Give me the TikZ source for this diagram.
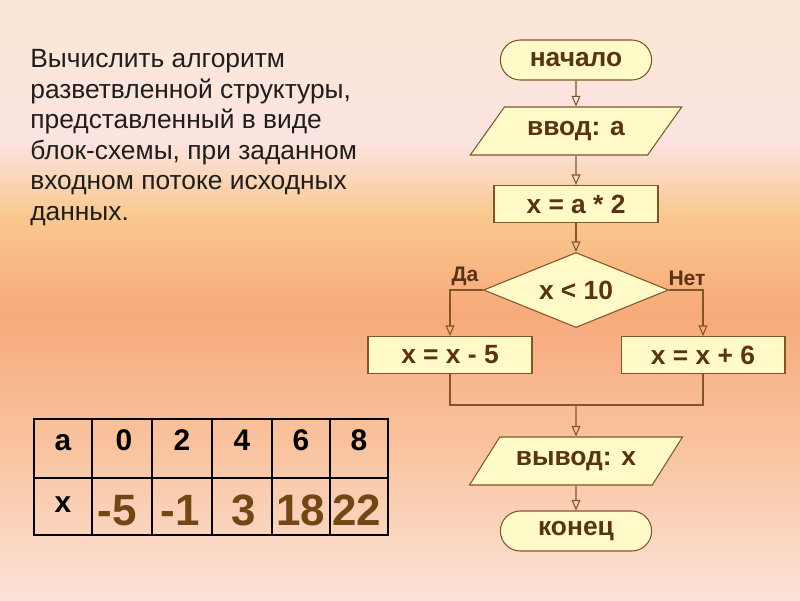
\documentclass[tikz,border=0pt]{standalone}
\usepackage{fontspec}
\setmainfont{Liberation Sans}
\usetikzlibrary{positioning,arrows.meta,shapes.geometric,shapes.misc}
\definecolor{fcLine}{RGB}{130,85,40}
\definecolor{fcFill}{RGB}{255,250,200}
\definecolor{fcText}{RGB}{90,50,20}
\definecolor{tbVal}{RGB}{115,70,20}
\definecolor{txDark}{RGB}{30,30,30}
\definecolor{bgA}{RGB}{250,231,212}
\definecolor{bgB}{RGB}{252,228,226}
\definecolor{bgC}{RGB}{249,200,142}
\definecolor{bgD}{RGB}{247,170,122}
\definecolor{bgE}{RGB}{249,196,160}
\definecolor{bgF}{RGB}{252,226,216}
\pgfdeclareverticalshading{bgshade}{100bp}{color(0bp)=(bgF); color(25bp)=(bgF); color(37.5bp)=(bgE); color(49bp)=(bgD); color(57bp)=(bgC); color(63.3bp)=(bgB); color(75bp)=(bgA); color(100bp)=(bgA)}

\begin{document}
\begin{tikzpicture}[x=0.02cm, y=-0.02cm,
  box/.style={draw=fcLine, line width=0.6pt, fill=fcFill, text=fcText,
    font=\bfseries\fontsize{15}{17}\selectfont},
  term/.style={box, rounded rectangle, minimum width=3.26cm, minimum height=0.8cm},
  io/.style={box, trapezium, trapezium left angle=50, trapezium right angle=130,
    trapezium stretches=true, minimum width=4.26cm, minimum height=0.96cm},
  proc/.style={box, rectangle, minimum width=3.28cm, minimum height=0.74cm},
  test/.style={box, diamond, aspect=2.5, inner sep=0pt, minimum width=3.7cm, minimum height=1.5cm},
  flow/.style={draw=fcLine, line width=0.6pt, -{Triangle[open,length=6pt,width=5pt]}},
  link/.style={draw=fcLine, line width=0.6pt},
  lbl/.style={text=fcText, font=\bfseries\fontsize{12}{14}\selectfont},
  hd/.style={anchor=base, font=\bfseries\fontsize{17}{19}\selectfont},
  val/.style={anchor=base, text=tbVal, font=\bfseries\fontsize{25}{28}\selectfont}]
  \useasboundingbox (0,0) rectangle (800,600);
  % Background
  \shade[shading=bgshade] (0,0) rectangle (800,600);

  % Task text
  \node[anchor=north west, inner sep=0pt, align=left, text=txDark,
    font=\fontsize{15}{17.4}\selectfont] (task) at (30,49) {
    Вычислить алгоритм\\
    разветвленной структуры,\\
    представленный в виде\\
    блок-схемы, при заданном\\
    входном потоке исходных\\
    данных.};

  % Flowchart
  \node[term] (start) at (576,60) {начало};
  \node[io] (input) at (576,131) {ввод: а};
  \node[proc] (calc) at (576,204) {x = a * 2};
  \node[test] (cond) at (576,290) {x < 10};
  \node[proc] (dec) at (450,355) {x = x - 5};
  \node[proc] (inc) at (703,355) {x = x + 6};
  \coordinate (join) at (576,405);
  \node[io] (output) at (576,461) {вывод: х};
  \node[term] (stop) at (576,531) {конец};

  \node[lbl] (yes) at (465,276) {Да};
  \node[lbl] (no) at (687,278) {Нет};

  \draw[flow] (start) -- (input);
  \draw[flow] (input) -- (calc);
  \draw[flow] (calc) -- (cond);
  \draw[flow] (cond.west) -| (dec);
  \draw[flow] (cond.east) -| (inc);
  \draw[link] (dec) |- (join) -| (inc);
  \draw[flow] (join) -- (output);
  \draw[flow] (output) -- (stop);

  % Table
  \draw[line width=0.6pt] (34,478) -- (388,478);
  \draw[line width=0.6pt] (92,419) -- (92,535);
  \draw[line width=0.6pt] (152,419) -- (152,535);
  \draw[line width=0.6pt] (212,419) -- (212,535);
  \draw[line width=0.6pt] (272,419) -- (272,535);
  \draw[line width=0.6pt] (330,419) -- (330,535);
  \draw[line width=1pt] (34,419) rectangle (388,535);

  \node[hd] (ha) at (63,450) {a};
  \node[hd] (h0) at (124,450) {0};
  \node[hd] (h2) at (182,450) {2};
  \node[hd] (h4) at (242,450) {4};
  \node[hd] (h6) at (301,450) {6};
  \node[hd] (h8) at (359,450) {8};
  \node[hd] (hx) at (63,512) {x};
  \node[val] (v0) at (117,525) {-5};
  \node[val] (v2) at (180,525) {-1};
  \node[val] (v4) at (244,525) {3};
  \node[val] (v6) at (301,525) {18};
  \node[val] (v8) at (357,525) {22};
\end{tikzpicture}
\end{document}
